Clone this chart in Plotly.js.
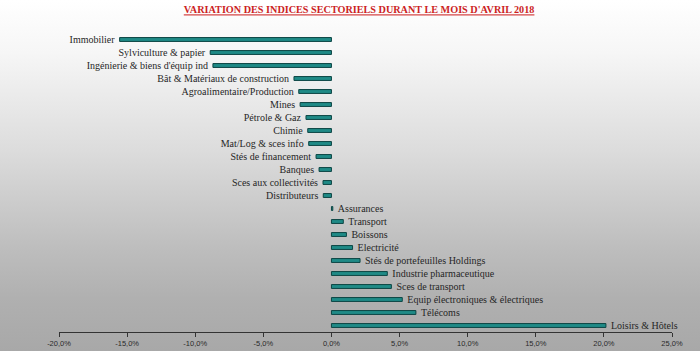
<!DOCTYPE html>
<html>
<head>
<meta charset="utf-8">
<script src="https://cdn.plot.ly/plotly-3.0.1.min.js"></script>
<style>
html,body{margin:0;padding:0;}
body{width:700px;height:351px;background:linear-gradient(to bottom,#ffffff 0%,#f6f6f6 15%,#dcdcdc 43%,#bdbdbd 71%,#b0b0b0 85%,#a8a8a8 100%);}
#chart{width:700px;height:351px;}
</style>
</head>
<body>
<div id="chart"></div>
<script>
var sectors = [
  "Immobilier",
  "Sylviculture & papier",
  "Ingénierie & biens d'équip ind",
  "Bât & Matériaux de construction",
  "Agroalimentaire/Production",
  "Mines",
  "Pétrole & Gaz",
  "Chimie",
  "Mat/Log & sces info",
  "Stés de financement",
  "Banques",
  "Sces aux collectivités",
  "Distributeurs",
  "Assurances",
  "Transport",
  "Boissons",
  "Electricité",
  "Stés de portefeuilles Holdings",
  "Industrie pharmaceutique",
  "Sces de transport",
  "Equip électroniques & électriques",
  "Télécoms",
  "Loisirs & Hôtels"
];
var variation = [
  -15.55, -8.9, -8.7, -2.75, -2.4, -2.3, -1.87, -1.74, -1.67, -1.13, -0.91, -0.62, -0.6,
  0.1, 0.87, 1.1, 1.55, 2.1, 4.1, 4.4, 5.2, 6.2, 20.15
];
var tickValues = [-20, -15, -10, -5, 0, 5, 10, 15, 20, 25];
var tickLabels = ["-20,0%", "-15,0%", "-10,0%", "-5,0%", "0,0%", "5,0%", "10,0%", "15,0%", "20,0%", "25,0%"];
var chartTitle = "VARIATION DES INDICES SECTORIELS DURANT LE MOIS D'AVRIL 2018";

var pad = '\u00a0\u00a0';
var labels = sectors.map(function (s, i) {
  return variation[i] < 0 ? s + pad : pad + s;
});

var trace = {
  type: 'bar',
  orientation: 'h',
  x: variation,
  y: sectors,
  text: labels,
  textposition: 'outside',
  cliponaxis: false,
  constraintext: 'none',
  textfont: {family: 'Liberation Serif, serif', size: 10, color: '#262626'},
  marker: {color: '#1f8a86', line: {color: '#0c4644', width: 1}},
  hoverinfo: 'x+y'
};

var layout = {
  width: 700, height: 351,
  paper_bgcolor: 'rgba(0,0,0,0)',
  plot_bgcolor: 'rgba(0,0,0,0)',
  margin: {l: 59, r: 28, t: 33, b: 19},
  showlegend: false,
  bargap: 0.7,
  title: {
    text: '<b><u>' + chartTitle + '</u></b>',
    font: {family: 'Liberation Serif, serif', size: 10.2, color: '#cc1f1f'},
    x: 0.513, xanchor: 'center', y: 0.972, yanchor: 'middle'
  },
  xaxis: {
    range: [-20, 25],
    tickvals: tickValues,
    ticktext: tickLabels,
    ticks: 'outside', ticklen: 4, tickcolor: '#333', tickwidth: 1,
    showline: true, linecolor: '#333', linewidth: 1,
    showgrid: false, zeroline: false,
    tickfont: {family: 'Liberation Sans, sans-serif', size: 7.5, color: '#2a2a2a'}
  },
  yaxis: {
    autorange: 'reversed',
    showticklabels: false, showgrid: false, zeroline: false, showline: false, ticks: ''
  }
};

Plotly.newPlot('chart', [trace], layout, {staticPlot: true, displayModeBar: false});
</script>
</body>
</html>
